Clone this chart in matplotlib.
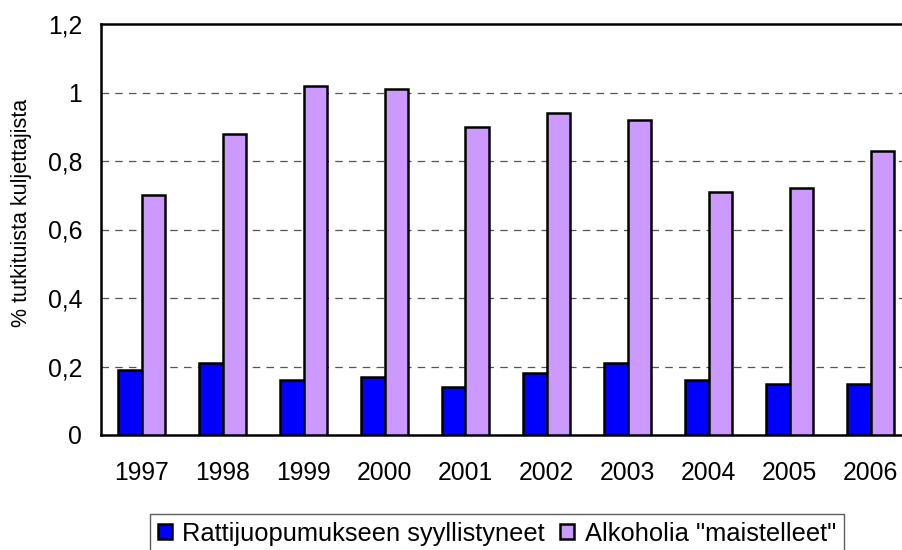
import matplotlib
matplotlib.use("Agg")
import matplotlib.pyplot as plt
import numpy as np

plt.rcParams['font.family'] = ['Liberation Sans', 'DejaVu Sans']

years = ["1997", "1998", "1999", "2000", "2001", "2002", "2003", "2004", "2005", "2006"]
convicted = [0.19, 0.21, 0.16, 0.17, 0.14, 0.18, 0.21, 0.16, 0.15, 0.15]
tasted = [0.70, 0.88, 1.02, 1.01, 0.90, 0.94, 0.92, 0.71, 0.72, 0.83]
yticks = [0, 0.2, 0.4, 0.6, 0.8, 1.0, 1.2]
ytick_labels = ["0", "0,2", "0,4", "0,6", "0,8", "1", "1,2"]

W, H = 903, 550
fig = plt.figure(figsize=(W / 100, H / 100), dpi=100)
ax = fig.add_axes([101 / W, (H - 435) / H, 810 / W, (435 - 24) / H])

x = np.arange(len(years))
bw = 0.29
ax.bar(x - bw / 2, convicted, bw, color="#0000ff", edgecolor="black", linewidth=1.8,
       label="Rattijuopumukseen syyllistyneet", zorder=3)
ax.bar(x + bw / 2, tasted, bw, color="#cc99ff", edgecolor="black", linewidth=1.8,
       label='Alkoholia "maistelleet"', zorder=3)

ax.set_xlim(-0.5, len(years) - 0.5)
ax.set_ylim(0, 1.2)
ax.set_yticks(yticks)
ax.set_yticklabels(ytick_labels)
ax.set_xticks(x)
ax.set_xticklabels(years)
ax.tick_params(axis='x', length=0, pad=19, labelsize=17.8)
ax.tick_params(axis='y', length=0, pad=13.5, labelsize=17.8)
for v in yticks[1:-1]:
    ax.axhline(v, color="#555555", linestyle=(0, (6, 5)), linewidth=0.9, zorder=1)

for s in ["top", "left", "bottom"]:
    ax.spines[s].set_linewidth(1.8)
ax.spines["right"].set_visible(False)

fig.text(22 / W, 1 - 213 / H, "% tutkituista kuljettajista", fontsize=15.5,
         rotation=90, ha="center", va="center")

fig.legend(loc="upper left", bbox_to_anchor=(150 / W, 1 - 514 / H), ncol=2,
           fontsize=18.4, frameon=True, fancybox=False, edgecolor="#333333",
           handlelength=0.56, handleheight=0.56, handletextpad=0.4, columnspacing=0.6,
           borderpad=0.3, borderaxespad=0)

fig.savefig("out.png", dpi=100)
